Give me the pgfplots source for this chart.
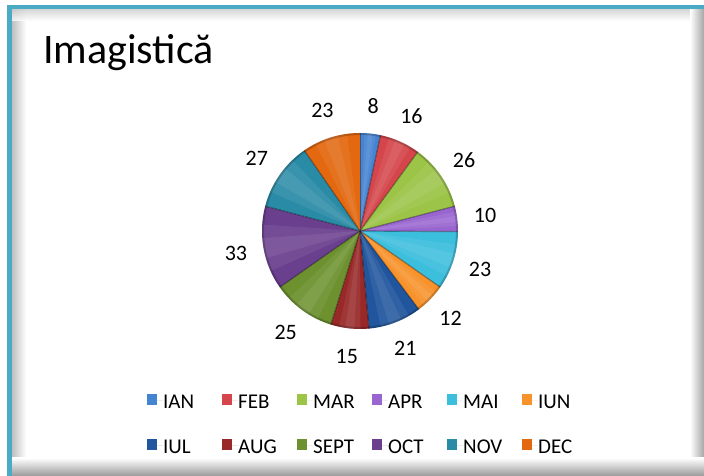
\documentclass[border=0pt]{standalone}
\usepackage{fontspec}
\setmainfont{Carlito}
\usepackage{pgfplots}
\usepackage{pgfplotstable}
\pgfplotsset{compat=1.18}

\definecolor{c0}{HTML}{4584D2}
\definecolor{c1}{HTML}{D4464C}
\definecolor{c2}{HTML}{9CC446}
\definecolor{c3}{HTML}{9966D0}
\definecolor{c4}{HTML}{3CBEDD}
\definecolor{c5}{HTML}{F8922A}
\definecolor{c6}{HTML}{21569E}
\definecolor{c7}{HTML}{992828}
\definecolor{c8}{HTML}{6C912E}
\definecolor{c9}{HTML}{6A3F8E}
\definecolor{c10}{HTML}{2A8BA7}
\definecolor{c11}{HTML}{E3680F}
\definecolor{frame}{HTML}{4AABC5}

\pgfplotstableread{
month value
IAN 8
FEB 16
MAR 26
APR 10
MAI 23
IUN 12
IUL 21
AUG 15
SEPT 25
OCT 33
NOV 27
DEC 23
}\piedata

\def\cx{360}
\def\cy{245}
\def\rad{98}
\def\lrad{126}

\begin{document}
\begin{tikzpicture}
\begin{axis}[
  scale only axis, width=704pt, height=476pt,
  xmin=0, xmax=704, ymin=0, ymax=476,
  axis lines=none, clip=false,
  legend columns=6,
  legend style={at={(axis cs:147,85.3)}, anchor=north west, draw=none, fill=none,
    inner sep=0pt, row sep=26pt, nodes={inner sep=0pt},
    font=\fontsize{21}{25}\selectfont},
  legend cell align=left,
  legend image code/.code={\path (0pt,0pt) -- (16pt,0pt);
    \fill[#1] (0pt,-4.5pt) rectangle (10pt,6.5pt);},
]
% background and frame
\fill[white] (axis cs:0,0) rectangle (axis cs:704,476);
\shade[left color=black!25, right color=white] (axis cs:12,0) rectangle (axis cs:26,467);
\shade[top color=black!20, bottom color=white, opacity=0.8] (axis cs:12,467) rectangle (axis cs:704,455);
\shade[left color=white, right color=black!35] (axis cs:690,0) rectangle (axis cs:704,467);
\shade[top color=white, bottom color=black!40] (axis cs:12,18) rectangle (axis cs:704,0);
\fill[frame] (axis cs:7,0) rectangle (axis cs:12,471);
\fill[frame] (axis cs:7,467) rectangle (axis cs:704,471);

% title
\node[anchor=base west, inner sep=0pt, font=\fontsize{42}{50}\selectfont, text=black]
  at (axis cs:43,412) {Imagistică};

% total
\def\total{0}
\pgfplotsforeachungrouped \i in {0,...,11}{%
  \pgfplotstablegetelem{\i}{value}\of\piedata
  \pgfmathsetmacro\total{\total+\pgfplotsretval}%
}
% wedges
\def\cum{0}
\pgfplotsforeachungrouped \i in {0,...,11}{%
  \pgfplotstablegetelem{\i}{value}\of\piedata
  \let\v\pgfplotsretval
  \pgfplotstablegetelem{\i}{month}\of\piedata
  \let\mname\pgfplotsretval
  \pgfmathsetmacro\a{90-\cum/\total*360}%
  \pgfmathsetmacro\b{90-(\cum+\v)/\total*360}%
  \pgfmathsetmacro\m{(\a+\b)/2}%
  \pgfmathsetmacro\aa{\a-(\a-\b)*0.22}%
  \pgfmathsetmacro\bb{\b+(\a-\b)*0.22}%
  \pgfmathsetmacro\aaa{\a-(\a-\b)*0.38}%
  \pgfmathsetmacro\bbb{\b+(\a-\b)*0.38}%
  \pgfmathsetmacro\lx{\cx+\lrad*cos(\m)}%
  \pgfmathsetmacro\ly{\cy+\lrad*sin(\m)}%
  \edef\temp{%
    \noexpand\fill[c\i] (axis cs:\cx,\cy) -- ++(\a:\rad pt) arc[start angle=\a, end angle=\b, radius=\rad pt] -- cycle;
    \noexpand\fill[white, opacity=0.07] (axis cs:\cx,\cy) -- ++(\aa:\rad pt) arc[start angle=\aa, end angle=\bb, radius=\rad pt] -- cycle;
    \noexpand\fill[white, opacity=0.07] (axis cs:\cx,\cy) -- ++(\aaa:\rad pt) arc[start angle=\aaa, end angle=\bbb, radius=\rad pt] -- cycle;
    \noexpand\draw[black, opacity=0.35, line width=1.2pt] (axis cs:\cx,\cy) -- ++(\a:\rad pt);
    \noexpand\node[inner sep=0pt, font=\noexpand\fontsize{22}{26}\noexpand\selectfont] at (axis cs:\lx,\ly) {\v};
    \noexpand\addlegendimage{fill=c\i, draw=none}
    \noexpand\addlegendentry{\noexpand\makebox[59pt][l]{\noexpand\strut \mname}}
  }\temp
  \pgfmathsetmacro\cum{\cum+\v}%
}
\draw[black, opacity=0.2, line width=2pt] (axis cs:\cx,\cy) circle[radius=97pt];
\end{axis}
\end{tikzpicture}
\end{document}
